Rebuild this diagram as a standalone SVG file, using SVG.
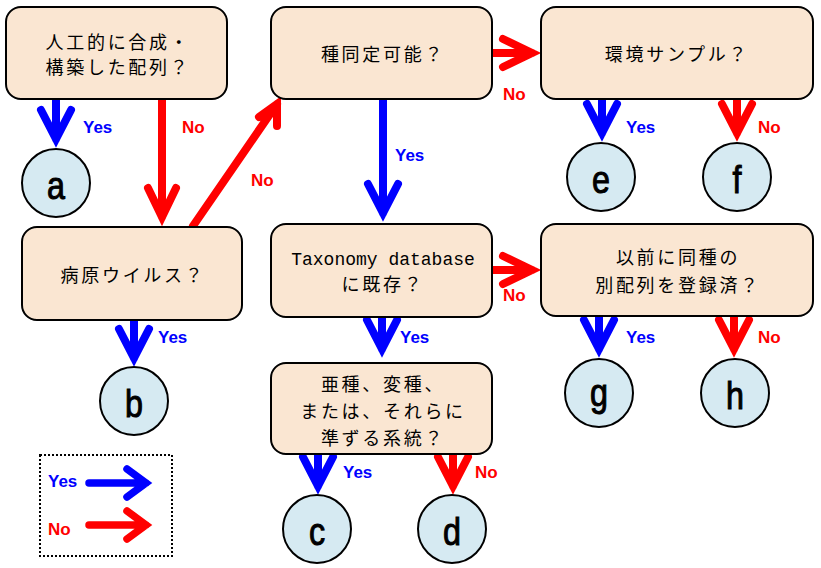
<svg xmlns="http://www.w3.org/2000/svg" width="821" height="568" viewBox="0 0 821 568">
<style>
.box{fill:#fae6d2;stroke:#000;stroke-width:2}
.end{fill:#d6eaf2;stroke:#000;stroke-width:2}
.jp{font-family:"Noto Sans CJK JP","Liberation Sans",sans-serif;font-size:18px;letter-spacing:2.7px;fill:#000;text-anchor:middle}
.mono{font-family:"Liberation Mono","Noto Sans CJK JP",monospace;font-size:18px;fill:#000;text-anchor:middle}
.let{font-family:"Liberation Sans",Arial,sans-serif;font-size:38px;fill:#000;stroke:#000;stroke-width:1;text-anchor:middle}
.yes{font-family:"Liberation Sans",Arial,sans-serif;font-size:17px;font-weight:bold;fill:#0000ff}
.no{font-family:"Liberation Sans",Arial,sans-serif;font-size:17px;font-weight:bold;fill:#ff0000}
.ab{fill:none;stroke:#0000ff;stroke-width:8;stroke-linecap:round;stroke-linejoin:miter;stroke-miterlimit:10}
.ar{fill:none;stroke:#ff0000;stroke-width:8;stroke-linecap:round;stroke-linejoin:miter;stroke-miterlimit:10}
</style>
<rect width="821" height="568" fill="#fff"/>

<g id="connectors">
  <path class="ab" d="M56 100 V139 M41 110 L56 139 L71 110"/>
  <path class="ar" d="M162 100 V217 M148 188 L162 217 L176 188"/>
  <path class="ar" d="M193 226 L277 104 M259 117 L277 104 L277 126"/>
  <path class="ar" d="M493 53 H532 M503 39 L532 53 L503 67"/>
  <path class="ab" d="M383 100 V213 M368 184 L383 213 L398 184"/>
  <path class="ab" d="M602 100 V133 M587 104 L602 133 L617 104"/>
  <path class="ar" d="M737 100 V133 M722 104 L737 133 L752 104"/>
  <path class="ab" d="M134 321 V358 M119 329 L134 358 L149 329"/>
  <path class="ar" d="M493 270 H532 M503 256 L532 270 L503 284"/>
  <path class="ab" d="M382 318 V349 M367 320 L382 349 L397 320"/>
  <path class="ab" d="M599 317 V349 M584 320 L599 349 L614 320"/>
  <path class="ar" d="M734 317 V349 M719 320 L734 349 L749 320"/>
  <path class="ab" d="M318 455 V486 M303 457 L318 486 L333 457"/>
  <path class="ar" d="M453 455 V486 M438 457 L453 486 L468 457"/>

  <text class="yes" x="83" y="133">Yes</text>
  <text class="no" x="182" y="133">No</text>
  <text class="no" x="251" y="186">No</text>
  <text class="no" x="503" y="100">No</text>
  <text class="yes" x="395" y="161">Yes</text>
  <text class="yes" x="626" y="133">Yes</text>
  <text class="no" x="758" y="133">No</text>
  <text class="yes" x="158" y="343">Yes</text>
  <text class="no" x="503" y="301">No</text>
  <text class="yes" x="400" y="343">Yes</text>
  <text class="yes" x="626" y="343">Yes</text>
  <text class="no" x="758" y="343">No</text>
  <text class="yes" x="343" y="478">Yes</text>
  <text class="no" x="475" y="478">No</text>
</g>

<g id="q1">
  <rect class="box" x="6" y="7" width="221" height="92" rx="15"/>
  <text class="jp" x="118" y="49">人工的に合成・</text>
  <text class="jp" x="118" y="74">構築した配列？</text>
</g>
<g id="q2">
  <rect class="box" x="271" y="7" width="221" height="92" rx="15"/>
  <text class="jp" x="383" y="61">種同定可能？</text>
</g>
<g id="q3">
  <rect class="box" x="541" y="7" width="272" height="92" rx="15"/>
  <text class="jp" x="677" y="61">環境サンプル？</text>
</g>
<g id="q4">
  <rect class="box" x="22" y="227" width="220" height="93" rx="15"/>
  <text class="jp" x="133" y="282">病原ウイルス？</text>
</g>
<g id="q5">
  <rect class="box" x="271" y="224" width="221" height="93" rx="15"/>
  <text class="mono" x="383" y="265">Taxonomy database</text>
  <text class="jp" x="383" y="291">に既存？</text>
</g>
<g id="q6">
  <rect class="box" x="541" y="224" width="272" height="92" rx="15"/>
  <text class="jp" x="678" y="264">以前に同種の</text>
  <text class="jp" x="678" y="292">別配列を登録済？</text>
</g>
<g id="q7">
  <rect class="box" x="271" y="363" width="221" height="91" rx="15"/>
  <text class="jp" x="383" y="391">亜種、変種、</text>
  <text class="jp" x="383" y="418">または、それらに</text>
  <text class="jp" x="383" y="445">準ずる系統？</text>
</g>

<g id="a"><circle class="end" cx="56" cy="183" r="34"/><text class="let" transform="translate(56 199) scale(0.85 1)">a</text></g>
<g id="b"><circle class="end" cx="134" cy="401" r="34"/><text class="let" transform="translate(134 417) scale(0.85 1)">b</text></g>
<g id="c"><circle class="end" cx="317" cy="529" r="34"/><text class="let" transform="translate(317 545) scale(0.85 1)">c</text></g>
<g id="d"><circle class="end" cx="452" cy="529" r="34"/><text class="let" transform="translate(452 545) scale(0.85 1)">d</text></g>
<g id="e"><circle class="end" cx="601" cy="177" r="34"/><text class="let" transform="translate(601 193) scale(0.85 1)">e</text></g>
<g id="f"><circle class="end" cx="737" cy="177" r="34"/><text class="let" transform="translate(737 193) scale(0.85 1)">f</text></g>
<g id="g"><circle class="end" cx="599" cy="393" r="34"/><text class="let" transform="translate(599 406) scale(0.85 1)">g</text></g>
<g id="h"><circle class="end" cx="735" cy="393" r="34"/><text class="let" transform="translate(735 409) scale(0.85 1)">h</text></g>

<g id="legend">
  <rect x="40" y="455" width="132" height="101" fill="none" stroke="#000" stroke-width="2" stroke-dasharray="2 2"/>
  <text class="yes" x="48" y="487">Yes</text>
  <path class="ab" d="M89 483 H146 M127 469 L146 483 L127 497" style="stroke-width:7.5"/>
  <text class="no" x="48" y="535">No</text>
  <path class="ar" d="M89 525 H146 M127 511 L146 525 L127 539" style="stroke-width:7.5"/>
</g>
</svg>
